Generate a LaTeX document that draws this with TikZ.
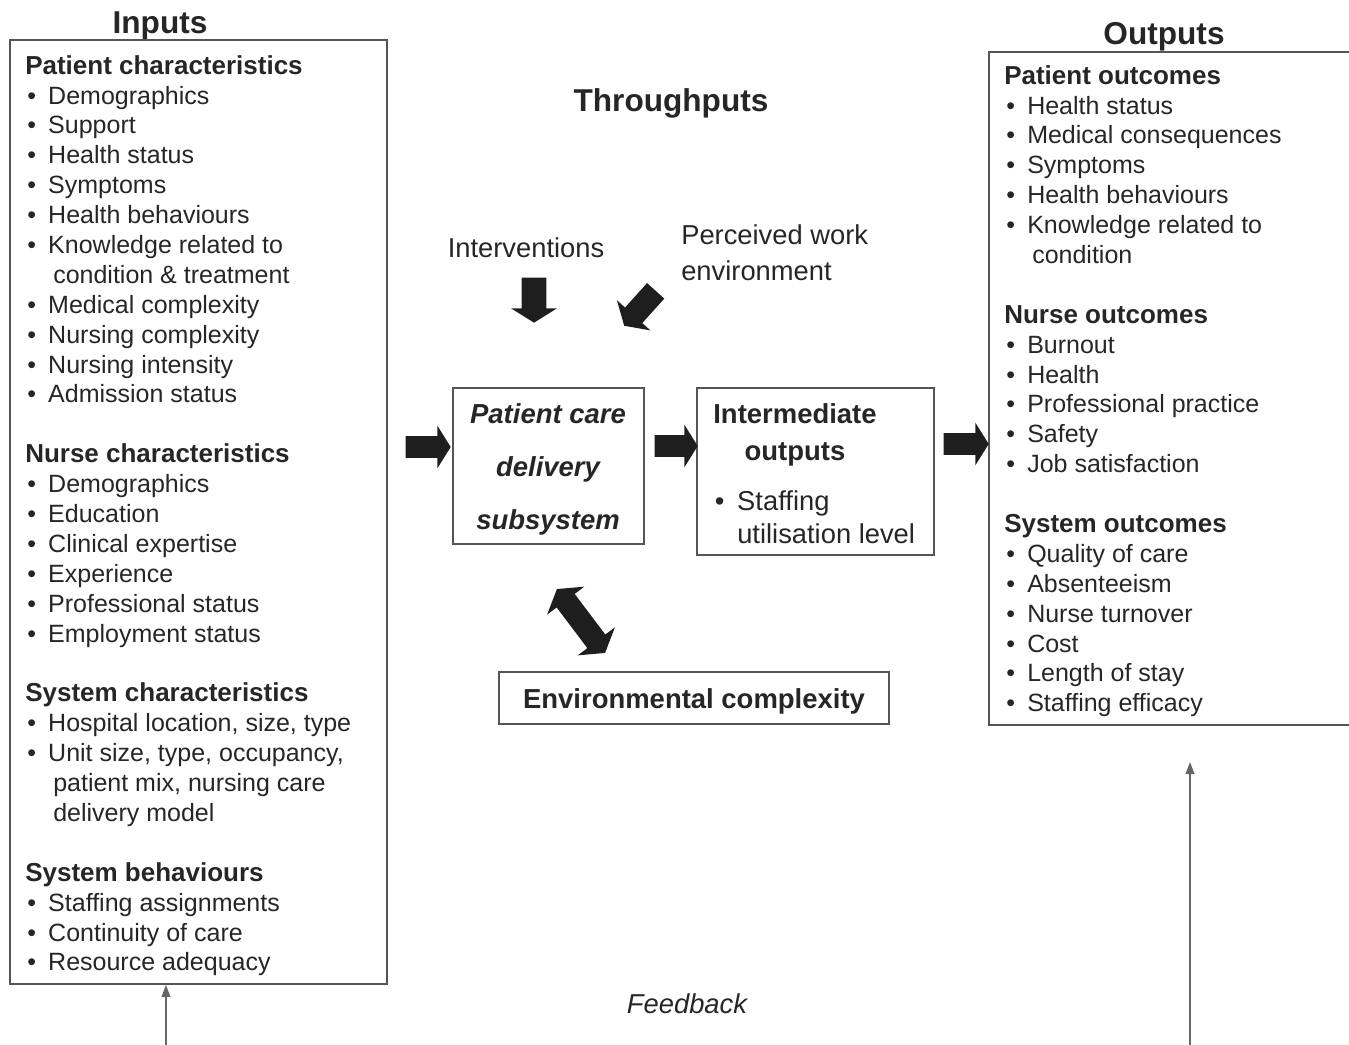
\documentclass[tikz,border=0pt]{standalone}
\usepackage{fontspec}
\setmainfont{Liberation Sans}
\usetikzlibrary{shapes.arrows,fit,arrows.meta}
\definecolor{txt}{HTML}{262626}
\definecolor{boxc}{HTML}{555555}
\definecolor{arr}{HTML}{1E1E1E}
\definecolor{fbc}{HTML}{666666}
\newcommand{\bul}{\makebox[17.25pt][l]{\hspace{1.5pt}•}}
\newcommand{\cont}{\hspace*{21pt}}
\newcommand{\hd}[1]{{\fontsize{19.5}{22.4}\selectfont\bfseries #1}}
\begin{document}
\begin{tikzpicture}[x=0.75pt,y=-0.75pt,
  box/.style={draw=boxc, line width=1.4pt, inner sep=0pt},
  sidebody/.style={font=\fontsize{18.75}{22.42}\selectfont, text=txt, inner sep=0pt, align=left},
  cbody/.style={font=\fontsize{20.5}{27}\selectfont, text=txt, inner sep=0pt, align=left},
  cbold/.style={font=\fontsize{20.6}{27}\selectfont\bfseries, text=txt, inner sep=0pt, align=center},
  ttl/.style={font=\fontsize{23.7}{28}\selectfont\bfseries, text=txt, inner sep=0pt},
  blk/.style={single arrow, fill=arr, draw=none, inner xsep=0pt, single arrow tip angle=116, anchor=tip},
  fb/.style={draw=fbc, line width=1.3pt, -{Triangle[length=9pt,width=6.5pt]}}
]
\useasboundingbox (0,0) rectangle (1349,1045);
\clip (0,0) rectangle (1349,1045);

% ---------- Inputs ----------
\node[ttl] (inT) at (160,26) {Inputs};
\node[box, fit={(10,40)(387,984)}] (inbox) {};
\node[sidebody, anchor=north west] (intext) at (25,55) {%
\hd{Patient characteristics}\\
\bul Demographics\\
\bul Support\\
\bul Health status\\
\bul Symptoms\\
\bul Health behaviours\\
\bul Knowledge related to\\
\cont condition \& treatment\\
\bul Medical complexity\\
\bul Nursing complexity\\
\bul Nursing intensity\\
\bul Admission status\\[22.42pt]
\hd{Nurse characteristics}\\
\bul Demographics\\
\bul Education\\
\bul Clinical expertise\\
\bul Experience\\
\bul Professional status\\
\bul Employment status\\[22.42pt]
\hd{System characteristics}\\
\bul Hospital location, size, type\\
\bul Unit size, type, occupancy,\\
\cont patient mix, nursing care\\
\cont delivery model\\[22.42pt]
\hd{System behaviours}\\
\bul Staffing assignments\\
\bul Continuity of care\\
\bul Resource adequacy};

% ---------- Outputs ----------
\node[ttl] (outT) at (1164,37) {Outputs};
\node[box, fit={(989,52)(1365,725)}] (outbox) {};
\node[sidebody, anchor=north west] (outtext) at (1004,65) {%
\hd{Patient outcomes}\\
\bul Health status\\
\bul Medical consequences\\
\bul Symptoms\\
\bul Health behaviours\\
\bul Knowledge related to\\
\cont condition\\[22.42pt]
\hd{Nurse outcomes}\\
\bul Burnout\\
\bul Health\\
\bul Professional practice\\
\bul Safety\\
\bul Job satisfaction\\[22.42pt]
\hd{System outcomes}\\
\bul Quality of care\\
\bul Absenteeism\\
\bul Nurse turnover\\
\bul Cost\\
\bul Length of stay\\
\bul Staffing efficacy};

% ---------- Throughputs ----------
\node[ttl] (thT) at (671,103) {Throughputs};
\node[cbody] (interv) at (526,248) {Interventions};
\node[cbody, anchor=north west, font=\fontsize{20.5}{27}\selectfont] (pwe) at (681,224) {Perceived work\\environment};

\node[box, fit={(453,388)(644,544)}] (pcd) {};
\node[cbold, font=\fontsize{20.6}{39.75}\selectfont\bfseries\itshape] (pcdtext) at (548,469) {Patient care\\delivery\\subsystem};

\node[box, fit={(697,388)(934,555)}] (inter) {};
\node[cbold, font=\fontsize{20.6}{27.75}\selectfont\bfseries] (intertext) at (795,435) {Intermediate\\outputs};
\node[cbody, anchor=north west, font=\fontsize{20.5}{24.75}\selectfont] (staff) at (712,490) {\makebox[18.75pt][l]{\hspace{2pt}•}Staffing\\\hspace*{18.75pt}utilisation level};

\node[box, fit={(499,672)(889,724)}] (env) {};
\node[cbold] (envtext) at (694,701) {Environmental complexity};

% ---------- block arrows ----------
\node[blk, inner ysep=7.9pt, minimum height=33.75pt, single arrow head extend=7.9pt] (a1) at (451,447) {};
\node[blk, inner ysep=7.9pt, minimum height=32.25pt, single arrow head extend=7.9pt] (a2) at (698,446) {};
\node[blk, inner ysep=7.9pt, minimum height=33.75pt, single arrow head extend=7.9pt] (a3) at (989,444) {};
\node[blk, rotate=-90, inner ysep=9pt, minimum height=33.75pt, single arrow head extend=7.9pt] (adown) at (534,323) {};
\node[blk, rotate=-132, inner ysep=8.5pt, minimum height=35.25pt, single arrow head extend=8.2pt] (adiag) at (624,326) {};
\node[double arrow, fill=arr, draw=none, inner xsep=0pt, inner ysep=8.25pt, double arrow tip angle=116, rotate=-53, minimum height=60pt, double arrow head extend=9pt] (adbl) at (581,621) {};

% ---------- feedback ----------
\node[font=\fontsize{20.5}{24}\selectfont\itshape, text=txt, inner sep=0pt] (fbtext) at (687,1004) {Feedback};
\coordinate (fbL) at (166,1050);
\coordinate (fbR) at (1190,1050);
\coordinate (fbRtop) at (1190,762);
\draw[fb] (fbL) -- (fbL |- inbox.south);
\draw[fb] (fbR) -- (fbRtop);
\end{tikzpicture}
\end{document}
